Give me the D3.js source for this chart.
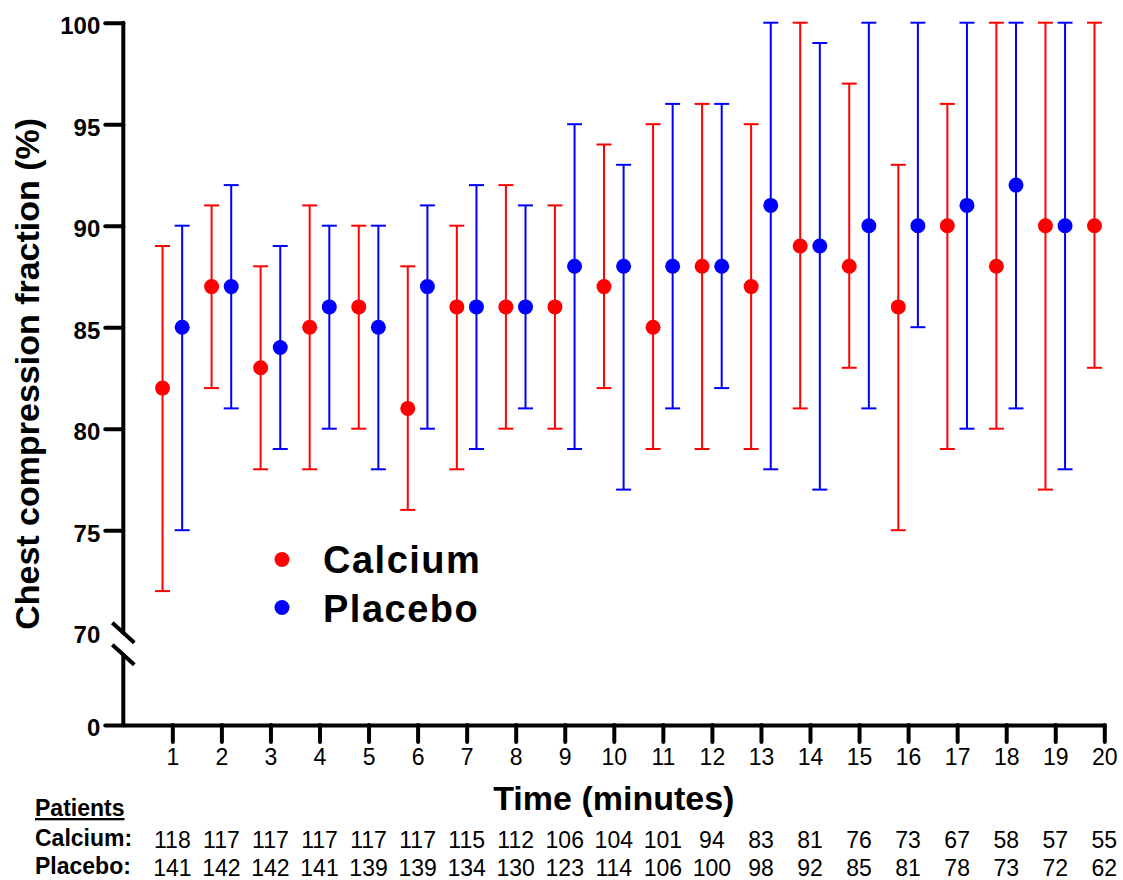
<!DOCTYPE html>
<html>
<head>
<meta charset="utf-8">
<script src="https://cdn.jsdelivr.net/npm/d3@7"></script>
<style>
  body { margin: 0; background: white; }
  text { font-family: "Liberation Sans", Arial, Helvetica, sans-serif; }
</style>
</head>
<body>
<div class="canvas"></div>
<script>
var width = 1123;
var height = 880;

// minutes on the x axis
const minutes = [1, 2, 3, 4, 5, 6, 7, 8, 9, 10, 11, 12, 13, 14, 15, 16, 17, 18, 19, 20];

// median and range
const calciumMid = [82, 87, 83, 85, 86, 81, 86, 86, 86, 87, 85, 88, 87, 89, 88, 86, 90, 88, 90, 90];
const calciumLow = [72, 82, 78, 78, 80, 76, 78, 80, 80, 82, 79, 79, 79, 81, 83, 75, 79, 80, 77, 83];
const calciumHigh = [89, 91, 88, 91, 90, 88, 90, 92, 91, 94, 95, 96, 95, 100, 97, 93, 96, 100, 100, 100];

// placebo at minute 20 is not shown in the figure
const placeboMid = [85, 87, 84, 86, 85, 87, 86, 86, 88, 88, 88, 88, 91, 89, 90, 90, 91, 92, 90, null];
const placeboLow = [75, 81, 79, 80, 78, 80, 79, 81, 79, 77, 81, 82, 78, 77, 81, 85, 80, 81, 78, null];
const placeboHigh = [90, 92, 89, 90, 90, 91, 92, 91, 95, 93, 96, 96, 100, 99, 100, 100, 100, 100, 100, null];

// patients at risk
const calciumN = [118, 117, 117, 117, 117, 117, 115, 112, 106, 104, 101, 94, 83, 81, 76, 73, 67, 58, 57, 55];
const placeboN = [141, 142, 142, 141, 139, 139, 134, 130, 123, 114, 106, 100, 98, 92, 85, 81, 78, 73, 72, 62];

const yTicks = [70, 75, 80, 85, 90, 95, 100];

const series = [
    { name: "Calcium", color: "#ff0000", shift: -0.2, mid: calciumMid, low: calciumLow, high: calciumHigh },
    { name: "Placebo", color: "#0000ff", shift: 0.2, mid: placeboMid, low: placeboLow, high: placeboHigh }
];

var svg = d3.select(".canvas").append("svg")
    .attr("width", width)
    .attr("height", height)
    .style("background", "white");

var x = d3.scaleLinear().domain([0, 20]).range([123.3, 1104.3]);
var yTop = d3.scaleLinear().domain([70, 100]).range([631.7, 22.7]);
var yBot = d3.scaleLinear().domain([0, 10]).range([725, 650]);
var axisX = x(0);

// x axis
var gx = svg.append("g").attr("transform", `translate(0,${yBot(0)})`)
    .call(d3.axisBottom(x).tickValues(minutes).tickSize(17).tickSizeOuter(0).tickPadding(8));
gx.select(".domain").attr("stroke-width", 4).attr("stroke-linecap", "round");
gx.selectAll(".tick line").attr("stroke-width", 4).attr("stroke-linecap", "round");
gx.selectAll(".tick text").attr("font-size", 23).attr("font-family", "Liberation Sans, Arial, sans-serif")
    .attr("fill", "black").attr("y", 24).attr("dy", "0.71em");

// upper y axis (70-100)
var gy = svg.append("g").attr("transform", `translate(${axisX},0)`)
    .call(d3.axisLeft(yTop).tickValues(yTicks).tickSize(18).tickPadding(5));
gy.select(".domain").remove();
gy.selectAll(".tick line").attr("stroke-width", 4).attr("stroke-linecap", "round")
    .filter(d => d === 70).remove();
gy.selectAll(".tick text").attr("font-size", 24).attr("font-weight", "bold")
    .attr("font-family", "Liberation Sans, Arial, sans-serif").attr("fill", "black").attr("dy", "0.45em");

// lower y axis (0)
var gy0 = svg.append("g").attr("transform", `translate(${axisX},0)`)
    .call(d3.axisLeft(yBot).tickValues([0]).tickSize(18).tickPadding(5));
gy0.select(".domain").remove();
gy0.selectAll(".tick line").attr("stroke-width", 4).attr("stroke-linecap", "round");
gy0.selectAll(".tick text").attr("font-size", 24).attr("font-weight", "bold")
    .attr("font-family", "Liberation Sans, Arial, sans-serif").attr("fill", "black").attr("dy", "0.45em");

// y axis line with break
var b1 = yTop(70) + 1, b2 = yTop(70) + 23;
svg.append("line").attr("x1", axisX).attr("x2", axisX).attr("y1", yTop(100)).attr("y2", b1)
    .attr("stroke", "black").attr("stroke-width", 4).attr("stroke-linecap", "round");
svg.append("line").attr("x1", axisX).attr("x2", axisX).attr("y1", b2).attr("y2", yBot(0))
    .attr("stroke", "black").attr("stroke-width", 4).attr("stroke-linecap", "round");
[b1, b2].forEach(c => {
    svg.append("line").attr("x1", axisX - 11).attr("y1", c - 10).attr("x2", axisX + 11).attr("y2", c + 10)
        .attr("stroke", "black").attr("stroke-width", 4);
});

// error bars and points
series.forEach(s => {
    var g = svg.append("g");
    var rows = minutes.map((m, i) => ({ m: m, mid: s.mid[i], low: s.low[i], high: s.high[i] }))
        .filter(d => d.mid != null);
    g.selectAll("line.bar").data(rows).enter().append("line")
        .attr("class", "bar")
        .attr("x1", d => x(d.m + s.shift)).attr("x2", d => x(d.m + s.shift))
        .attr("y1", d => yTop(d.low)).attr("y2", d => yTop(d.high))
        .attr("stroke", s.color).attr("stroke-width", 2);
    ["low", "high"].forEach(k => {
        g.selectAll("line.cap-" + k).data(rows).enter().append("line")
            .attr("class", "cap-" + k)
            .attr("x1", d => x(d.m + s.shift) - 7.5).attr("x2", d => x(d.m + s.shift) + 7.5)
            .attr("y1", d => yTop(d[k])).attr("y2", d => yTop(d[k]))
            .attr("stroke", s.color).attr("stroke-width", 2);
    });
    g.selectAll("circle").data(rows).enter().append("circle")
        .attr("cx", d => x(d.m + s.shift)).attr("cy", d => yTop(d.mid))
        .attr("r", 7.5).attr("fill", s.color);
});

// legend
series.forEach((s, i) => {
    svg.append("circle").attr("cx", 282).attr("cy", 559.5 + i * 48).attr("r", 7.5).attr("fill", s.color);
    svg.append("text").attr("x", 323).attr("y", 573 + i * 48.5)
        .attr("font-size", 38).attr("font-weight", "bold").attr("letter-spacing", 1.5)
        .text(s.name);
});

// axis titles
svg.append("text").attr("x", x(10)).attr("y", 810).attr("text-anchor", "middle")
    .attr("font-size", 34).attr("font-weight", "bold").text("Time (minutes)");
svg.append("text").attr("transform", `translate(39,${(yTop(100) + yBot(0)) / 2}) rotate(-90)`)
    .attr("text-anchor", "middle").attr("font-size", 34).attr("font-weight", "bold")
    .text("Chest compression fraction (%)");

// patients table
svg.append("text").attr("x", 35).attr("y", 816).attr("font-size", 23).attr("font-weight", "bold")
    .attr("text-decoration", "underline").text("Patients");
svg.append("text").attr("x", 35).attr("y", 846).attr("font-size", 23).attr("font-weight", "bold").text("Calcium:");
svg.append("text").attr("x", 35).attr("y", 874).attr("font-size", 23).attr("font-weight", "bold").text("Placebo:");

svg.append("g").selectAll("text").data(calciumN).enter().append("text")
    .attr("x", (d, i) => x(minutes[i])).attr("y", 848).attr("text-anchor", "middle")
    .attr("font-size", 23).text(d => d);
svg.append("g").selectAll("text").data(placeboN).enter().append("text")
    .attr("x", (d, i) => x(minutes[i])).attr("y", 876).attr("text-anchor", "middle")
    .attr("font-size", 23).text(d => d);
</script>
</body>
</html>
